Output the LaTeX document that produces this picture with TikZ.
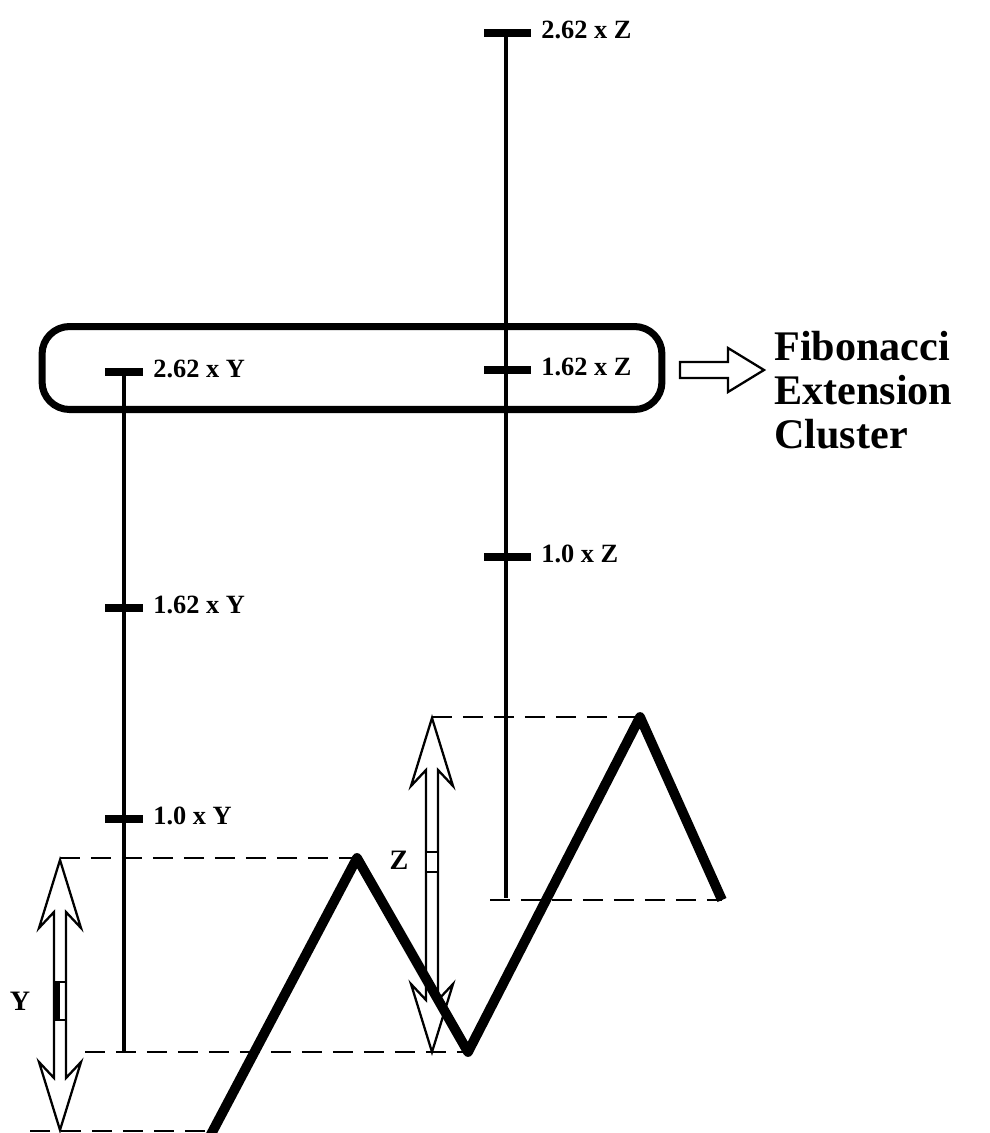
\documentclass[tikz,border=0pt]{standalone}
\usepackage{fontspec}
\setmainfont{Liberation Serif}
\usetikzlibrary{positioning,calc}

\tikzset{
  zigzag/.style={line width=5.6pt, line join=round},
  ruler/.style={line width=2.5pt},
  tickmark/.style={line width=4.4pt},
  guide/.style={line width=1.1pt, dash pattern=on 0.4cm off 0.22cm},
  hollow/.style={line width=1.3pt, fill=white, line join=miter},
  ticklabel/.style={font=\fontsize{15}{17}\selectfont\bfseries, anchor=west,
                    inner sep=0pt, xshift=0.13cm, yshift=1.5pt},
  leglabel/.style={font=\fontsize{16}{18}\selectfont\bfseries},
}

\begin{document}
\begin{tikzpicture}[x=0.02cm, y=-0.02cm]
  \useasboundingbox (0,0) rectangle (990,1133);

  % turning points of the price swing
  \coordinate (z0) at (208,1140);
  \coordinate (p1) at (357,858);
  \coordinate (v1) at (468,1052);
  \coordinate (p2) at (640,717);
  \coordinate (z1) at (722,900);

  % dashed guides
  \coordinate (g1) at (60,858);
  \coordinate (g2) at (85,1052);
  \coordinate (g3) at (30,1131);
  \coordinate (g3e) at (206,1131);
  \coordinate (g4) at (432,717);
  \coordinate (g5) at (490,900);
  \draw[guide] (g1) -- (p1);
  \draw[guide] (g2) -- (v1);
  \draw[guide] (g3) -- (g3e);
  \draw[guide] (g4) -- (p2);
  \draw[guide] (g5) -- (z1);

  % hollow double arrows for the swings Y and Z
  \foreach \x/\t/\b in {60/860/1130, 432/718/1052}{
    \draw[hollow] (\x,\t) -- (\x+21,\t+68) -- (\x+6,\t+52) -- (\x+6,\b-52)
      -- (\x+21,\b-68) -- (\x,\b) -- (\x-21,\b-68) -- (\x-6,\b-52)
      -- (\x-6,\t+52) -- (\x-21,\t+68) -- cycle;
  }
  \fill (54,982) rectangle (60,1020);
  \draw[line width=0.8pt] (54,982) rectangle (66,1020);
  \draw[line width=1pt, fill=white] (426,852) rectangle (438,872);
  \node[leglabel] (ylab) at (20,1001) {Y};
  \node[leglabel] (zlab) at (399,860) {Z};

  \draw[zigzag] (z0) -- (p1) -- (v1) -- (p2) -- (z1);

  % ruler for Y
  \coordinate (ytop) at (124,372);
  \coordinate (ybot) at (124,1052);
  \draw[ruler] (ytop) -- (ybot);
  \foreach \y/\f/\n in {372/2.62/a, 608/1.62/b, 819/1.0/c}{
    \draw[tickmark] (105,\y) -- (143,\y) node[ticklabel] (y\n) {\f{} x Y};
  }

  % ruler for Z
  \coordinate (ztop) at (506,33);
  \coordinate (zbot) at (506,898);
  \draw[ruler] (ztop) -- (zbot);
  \foreach \y/\f/\n in {33/2.62/a, 370/1.62/b, 557/1.0/c}{
    \draw[tickmark] (484,\y) -- (531,\y) node[ticklabel] (z\n) {\f{} x Z};
  }

  % cluster box
  \node[draw, line width=4pt, rounded corners=0.55cm,
        minimum width=12.4cm, minimum height=1.66cm] (cluster) at (352,368) {};
  \coordinate (tail) at (680,370);
  \draw[hollow] (tail) ++(0,-8) -- ++(48,0) -- ++(0,-14) -- ++(36,22) coordinate (tip)
    -- ++(-36,22) -- ++(0,-14) -- ++(-48,0) -- cycle;
  \node[font=\fontsize{24}{25}\selectfont\bfseries, align=left, anchor=north west,
        inner sep=0pt] (name) at (774,331) {Fibonacci\\Extension\\Cluster};
\end{tikzpicture}
\end{document}
